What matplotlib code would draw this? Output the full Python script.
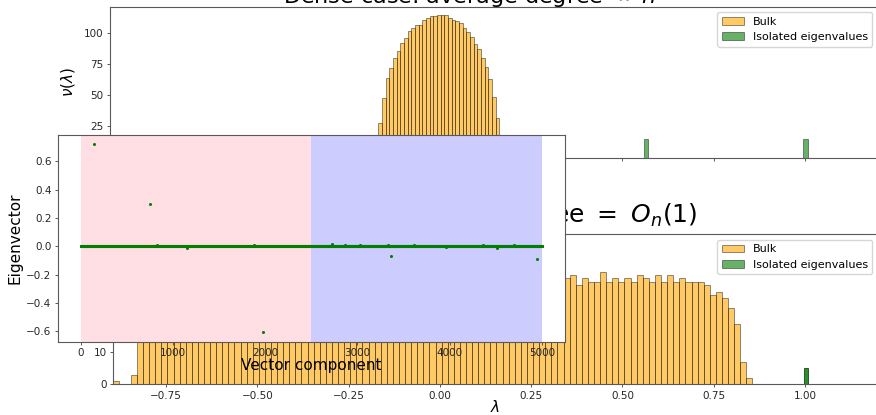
"""Dense vs sparse spectrum slide: two histograms with an eigenvector inset."""

import matplotlib

matplotlib.use("Agg")
import matplotlib.pyplot as plt
import numpy as np
from matplotlib.patches import Patch

# ---- data ----
# dense case: bulk histogram (33 bins) and two isolated eigenvalues
dense_lo, dense_hi = -0.169, 0.163
dense_counts = [28, 48, 64, 72, 80, 86, 92, 96, 102, 104, 107, 107, 111, 112, 114,
                114, 115, 115, 115, 112, 111, 110, 108, 104, 101, 97, 91, 87, 80,
                73, 63, 49, 32]
dense_isolated = [0.565, 1.001]
dense_isolated_height = [15, 15]

# sparse case: bulk histogram (105 bins), the middle part is hidden by the inset
sparse_lo, sparse_hi = -0.897, 0.856
sparse_counts = (
    [1, 0, 0, 3]
    + [22, 30, 33, 32, 34, 31, 33, 32, 33, 34,
       31, 33, 32, 34, 33, 31, 32, 34, 33, 32,
       31, 33, 34, 32, 33, 31, 32, 33, 34, 32,
       33, 32, 31, 33, 34, 32, 33, 32, 33, 31,
       34, 32, 33, 32, 31, 33, 32, 34, 33, 32,
       33, 31, 32, 33, 34, 32, 31, 33, 32, 33,
       34, 32, 33, 31, 32, 33, 32, 34, 33, 32]
    + [32.5]
    + [33.5, 30.5, 32.5, 31.5, 31.5, 34.5, 31.5, 32.5, 31.5, 32.5,
       31.5, 33.5, 32.5, 31.5, 33.5, 31.5, 33.5, 31.5, 32.5, 31.5,
       31.5, 31.5, 30.5, 27.4, 28.4, 26.4, 23.3, 18.5, 6.9, 2.0]
)
sparse_isolated = [1.003]
sparse_isolated_height = [5]

# eigenvector components: almost all ~0, a few localised entries
n_components = 5000
big_idx = [140, 748, 1975, 3366, 4948]
big_val = [0.72, 0.297, -0.605, -0.068, -0.085]
small_idx = [830, 1150, 1880, 2720, 2860, 3030, 3330, 3610, 3960, 4360, 4510, 4700, 4900]
small_val = [0.012, -0.010, 0.012, 0.015, 0.012, 0.010, 0.008, 0.013, -0.006, 0.009,
             -0.008, 0.010, 0.006]

lam_ticks = [-0.75, -0.5, -0.25, 0.0, 0.25, 0.5, 0.75, 1.0]
lam_labels = ["\u22120.75", "\u22120.50", "\u22120.25", "0.00", "0.25", "0.50", "0.75", "1.00"]

W, H = 876, 415


def box(l, t, r, b):
    return [l / W, 1 - b / H, (r - l) / W, (b - t) / H]


def style(ax):
    for s in ax.spines.values():
        s.set_color("0.35")
        s.set_linewidth(0.8)
    ax.tick_params(labelsize=7.5, length=2.5, width=0.7, pad=2, color="0.35",
                   labelcolor="0.15")


def bulk(ax, lo, hi, counts):
    edges = np.linspace(lo, hi, len(counts) + 1)
    ax.bar(edges[:-1], counts, width=np.diff(edges), align="edge", color="orange",
           alpha=0.6, edgecolor="black", linewidth=0.5)


fig = plt.figure(figsize=(W / 100, H / 100), dpi=100)
fig.patch.set_facecolor("white")

legend_handles = [
    Patch(facecolor="orange", alpha=0.6, edgecolor="black", linewidth=0.5, label="Bulk"),
    Patch(facecolor="green", alpha=0.6, edgecolor="black", linewidth=0.5,
          label="Isolated eigenvalues"),
]

# ---- dense case ----
ax_top = fig.add_axes(box(110, 6.7, 878, 157.5))
ax_top.set_zorder(1)
bulk(ax_top, dense_lo, dense_hi, dense_counts)
ax_top.bar(dense_isolated, dense_isolated_height, width=0.012, color="green", alpha=0.6,
           edgecolor="black", linewidth=0.5)
ax_top.set_xlim(-0.904, 1.2)
ax_top.set_ylim(0, 121.4)
ax_top.set_yticks([0, 25, 50, 75, 100])
ax_top.set_xticks(lam_ticks)
ax_top.tick_params(labelbottom=False)
ax_top.set_ylabel(r"$\nu(\lambda)$", fontsize=11, labelpad=5)
style(ax_top)
ax_top.legend(handles=legend_handles, loc="upper right", fontsize=8)
ax_top.text(469 / W, 1 - 3 / H, r"Dense case: average degree $\propto$ $n$",
            transform=fig.transFigure, ha="center", va="baseline", fontsize=16,
            clip_on=False)

# ---- sparse case ----
ax_bot = fig.add_axes(box(112.7, 234.3, 878, 384.3))
ax_bot.set_zorder(2)
bulk(ax_bot, sparse_lo, sparse_hi, sparse_counts)
ax_bot.bar(sparse_isolated, sparse_isolated_height, width=0.012, color="green", alpha=0.85,
           edgecolor="black", linewidth=0.5)
ax_bot.set_xlim(-0.8967, 1.2)
ax_bot.set_ylim(0, 46)
ax_bot.set_yticks([0, 10, 20, 30, 40])
ax_bot.set_xticks(lam_ticks)
ax_bot.set_xticklabels(lam_labels)
ax_bot.set_xlabel(r"$\lambda$", fontsize=11, labelpad=-1)
ax_bot.set_ylabel(r"$\nu(\lambda)$", fontsize=11)
style(ax_bot)
ax_bot.legend(handles=legend_handles, loc="upper right", fontsize=8)
ax_bot.text(697 / W, 1 - 222 / H, r"Sparse case: average degree $=$ $O_n(1)$",
            transform=fig.transFigure, ha="right", va="baseline", fontsize=18,
            clip_on=False)

# ---- eigenvector inset ----
vec = np.zeros(n_components)
vec[small_idx] = small_val
vec[big_idx] = big_val

ax_in = fig.add_axes(box(57.7, 135, 565, 341.7))
ax_in.set_zorder(5)
ax_in.set_facecolor("white")
ax_in.axvspan(0, n_components / 2, color="pink", alpha=0.5, linewidth=0)
ax_in.axvspan(n_components / 2, n_components, color="blue", alpha=0.2, linewidth=0)
ax_in.plot(np.arange(n_components), vec, "o", color="green", ms=2.2, mew=0)
ax_in.set_xlim(-250, 5250)
ax_in.set_ylim(-0.672, 0.787)
ax_in.set_xticks([0, 1000, 2000, 3000, 4000, 5000])
ax_in.set_yticks([-0.6, -0.4, -0.2, 0.0, 0.2, 0.4, 0.6])
ax_in.set_xlabel("Vector component", fontsize=11, labelpad=0)
ax_in.set_ylabel("Eigenvector", fontsize=11, labelpad=3)
style(ax_in)

fig.savefig("out.png", dpi=100)
